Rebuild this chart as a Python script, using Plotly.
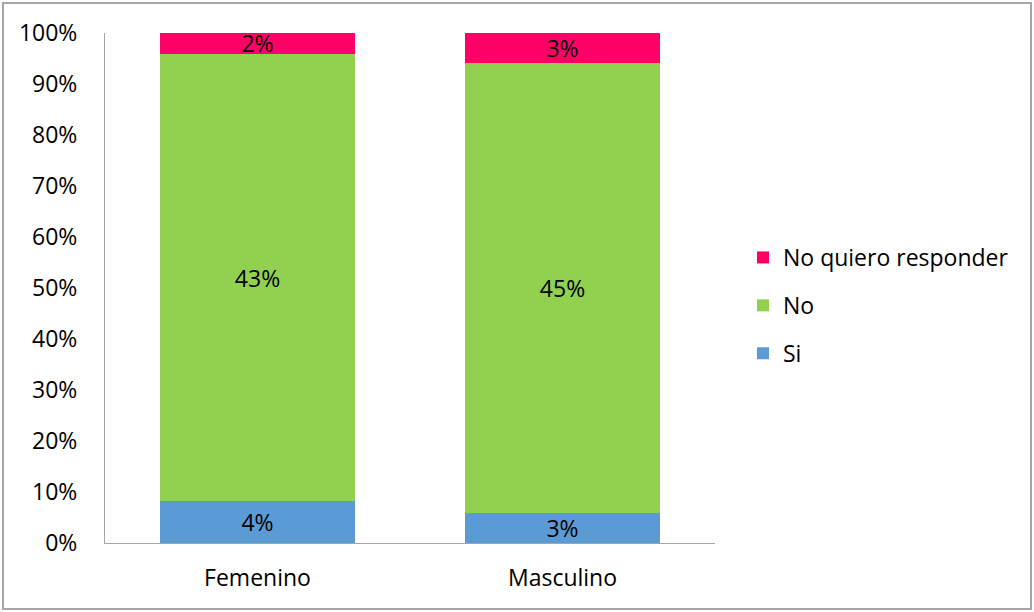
import plotly.graph_objects as go

categories = ["Femenino", "Masculino"]
si = [4, 3]
no = [43, 45]
no_quiero = [2, 3]
y_ticks = [0, 10, 20, 30, 40, 50, 60, 70, 80, 90, 100]
y_tick_labels = [f"{v}%" for v in y_ticks]

FONT = "Open Sans, Calibri, Arial, sans-serif"
FS = 23

series = [
    ("Si", si, "#5B9BD5", 3),
    ("No", no, "#92D050", 2),
    ("No quiero responder", no_quiero, "#FF0066", 1),
]

fig = go.Figure()
for i, (name, vals, color, rank) in enumerate(series):
    fig.add_trace(go.Bar(
        name=name,
        x=categories,
        y=vals,
        marker=dict(color=color, line=dict(width=0)),
        text=[f"{v}%" for v in vals],
        textposition="inside",
        insidetextanchor="middle",
        textangle=0,
        textfont=dict(family=FONT, size=FS, color="#000000"),
        legendgroup=f"g{i}",
        legendrank=rank,
        hoverinfo="skip",
    ))

L, R, T, B = 105, 319, 33, 69
W, H = 1034, 612
pw, ph = W - L - R, H - T - B

fig.update_layout(
    width=W, height=H,
    barmode="stack",
    barnorm="percent",
    bargap=0.36,
    margin=dict(l=L, r=R, t=T, b=B),
    paper_bgcolor="white",
    plot_bgcolor="white",
    uniformtext=dict(minsize=FS, mode="show"),
    font=dict(family=FONT, size=FS, color="#000000"),
    xaxis=dict(
        showline=True, linecolor="#A6A6A6", linewidth=1,
        ticks="", showgrid=False, zeroline=False,
        tickfont=dict(family=FONT, size=FS, color="#000000"),
        ticklabelstandoff=14,
    ),
    yaxis=dict(
        range=[0, 100],
        tickvals=y_ticks, ticktext=y_tick_labels,
        showline=True, linecolor="#A6A6A6", linewidth=1,
        ticks="", showgrid=False, zeroline=False,
        tickfont=dict(family=FONT, size=FS, color="#000000"),
        ticklabelstandoff=22,
    ),
    legend=dict(
        x=(743 - L) / pw, y=(543 - 236) / ph,
        xanchor="left", yanchor="top",
        traceorder="grouped",
        tracegroupgap=15,
        font=dict(family=FONT, size=FS, color="#000000"),
        itemwidth=30,
        bgcolor="rgba(0,0,0,0)",
    ),
    shapes=[dict(
        type="rect", xref="paper", yref="paper",
        x0=(3 - L) / pw, x1=(1031 - L) / pw,
        y0=(543 - 609) / ph, y1=(543 - 3) / ph,
        line=dict(color="#A6A6A6", width=2),
        fillcolor="rgba(0,0,0,0)", layer="below",
    )],
)

fig.write_html("out.html")
